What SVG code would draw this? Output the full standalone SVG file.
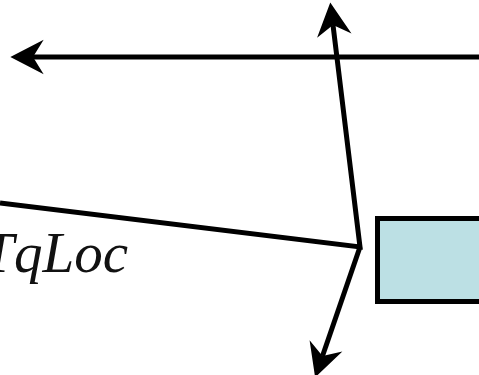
<svg xmlns="http://www.w3.org/2000/svg" width="479" height="375" viewBox="0 0 479 375">
<style>
.ln{fill:none;stroke:#000;stroke-width:5;stroke-linejoin:miter;stroke-linecap:butt}
.lbl{font-family:"Liberation Serif","DejaVu Serif",serif;font-style:italic;font-size:57px;fill:#111}
</style>
<defs>
<marker id="ah" markerUnits="userSpaceOnUse" markerWidth="40" markerHeight="40" viewBox="-10 -15 30 30" refX="0" refY="0" orient="auto" overflow="visible">
<path d="M17,0 L-8,-13 L0,0 L-8,13 Z" fill="#000"/>
</marker>
</defs>
<rect width="479" height="375" fill="#fff"/>
<g id="box">
<rect x="377.5" y="218.5" width="110" height="83" fill="#bce0e4" stroke="#000" stroke-width="5"/>
</g>
<g id="label">
<text class="lbl" x="128" y="272" text-anchor="end">TqLoc</text>
</g>
<g id="connectors">
<path class="ln" d="M479,57 L33,57" marker-end="url(#ah)"/>
<path class="ln" d="M0,203 L360,247 L333,25" marker-end="url(#ah)"/>
<path class="ln" d="M360,247 L322.5,356" marker-end="url(#ah)"/>
</g>
</svg>
